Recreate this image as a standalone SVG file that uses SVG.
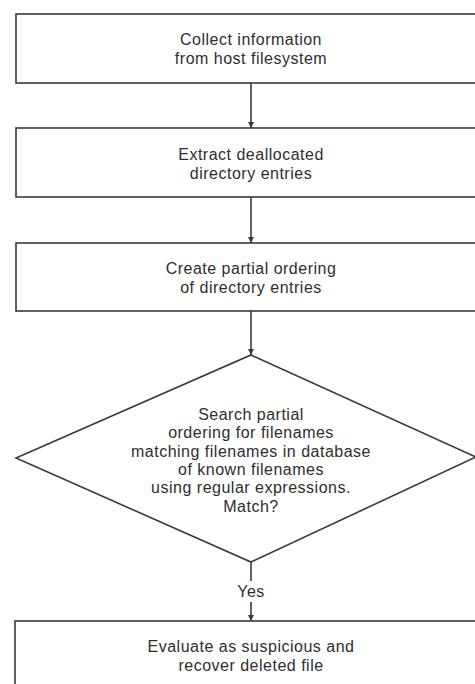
<svg xmlns="http://www.w3.org/2000/svg" width="475" height="684" viewBox="0 0 475 684">
<style>
.box{fill:#fff;stroke:#3a3a3a;stroke-width:1.6}
.t{font-family:"Liberation Sans",Arial,sans-serif;font-size:16px;letter-spacing:0.5px;fill:#2e2e2e;text-anchor:middle}
.c{stroke:#3a3a3a;stroke-width:1.6;fill:none}
</style>
<defs>
<marker id="ah" viewBox="0 0 8 8" refX="8" refY="4" markerWidth="6" markerHeight="6" orient="auto" markerUnits="userSpaceOnUse">
<path d="M0,0 L8,4 L0,8 z" fill="#3a3a3a"/>
</marker>
</defs>
<rect width="475" height="684" fill="#fff"/>
<g id="connectors">
<line class="c" x1="251" y1="83" x2="251" y2="128" marker-end="url(#ah)"/>
<line class="c" x1="251" y1="197" x2="251" y2="243" marker-end="url(#ah)"/>
<line class="c" x1="251" y1="311" x2="251" y2="355" marker-end="url(#ah)"/>
<line class="c" x1="251" y1="562" x2="251" y2="581"/>
<line class="c" x1="251" y1="602" x2="251" y2="621" marker-end="url(#ah)"/>
<text class="t" x="251" y="597">Yes</text>
</g>
<g id="n1">
<rect class="box" x="16" y="14" width="470" height="69"/>
<text class="t" x="251" y="45">Collect information</text>
<text class="t" x="251" y="64">from host filesystem</text>
</g>
<g id="n2">
<rect class="box" x="16" y="128" width="470" height="69"/>
<text class="t" x="251" y="160">Extract deallocated</text>
<text class="t" x="251" y="179">directory entries</text>
</g>
<g id="n3">
<rect class="box" x="16" y="243" width="470" height="68"/>
<text class="t" x="251" y="274">Create partial ordering</text>
<text class="t" x="251" y="293">of directory entries</text>
</g>
<g id="n4">
<polygon class="box" points="251,355 476,457 251,562 16,458"/>
<text class="t" x="251" y="420">Search partial</text>
<text class="t" x="251" y="438">ordering for filenames</text>
<text class="t" x="251" y="457">matching filenames in database</text>
<text class="t" x="251" y="475">of known filenames</text>
<text class="t" x="251" y="493">using regular expressions.</text>
<text class="t" x="251" y="512">Match?</text>
</g>
<g id="n5">
<rect class="box" x="15" y="621" width="470" height="80"/>
<text class="t" x="251" y="652">Evaluate as suspicious and</text>
<text class="t" x="251" y="671">recover deleted file</text>
</g>
</svg>
